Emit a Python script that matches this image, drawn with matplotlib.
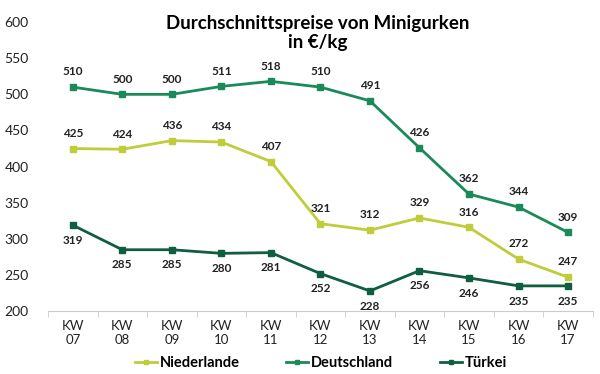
import numpy as np
from matplotlib import pyplot as plt

plt.rcParams['font.family'] = ['Lato', 'DejaVu Sans']

# Data
weeks = ["07", "08", "09", "10", "11", "12", "13", "14", "15", "16", "17"]
niederlande = [425, 424, 436, 434, 407, 321, 312, 329, 316, 272, 247]
deutschland = [510, 500, 500, 511, 518, 510, 491, 426, 362, 344, 309]
tuerkei = [319, 285, 285, 280, 281, 252, 228, 256, 246, 235, 235]

fig = plt.figure(figsize=(6, 3.74), dpi=100)
ax = fig.add_axes([0.08, 0.168, 0.908, 0.773])

x = np.arange(len(weeks))
series = [
    ("Niederlande", niederlande, "#bfcd3a", 1),
    ("Deutschland", deutschland, "#1a8a58", 1),
    ("Türkei", tuerkei, "#0f5e40", -1),
]
for name, vals, col, side in series:
    ax.plot(x, vals, color=col, lw=2, marker="s", ms=4, label=name)
    for xi, v in zip(x, vals):
        ax.annotate(str(v), (xi, v), xytext=(0, 7 * side), textcoords="offset points",
                    ha="center", va="bottom" if side > 0 else "top",
                    fontsize=8.5, fontweight="bold", color="#222222")

ax.set_xlim(-0.5, len(weeks) - 0.5)
ax.set_ylim(200, 600)
ax.set_yticks(range(200, 601, 50))
ax.set_xticks(x)
ax.set_xticklabels(["KW\n" + w for w in weeks], fontsize=9.5, color="#222222", linespacing=1.2)
ax.set_xticks(np.arange(-0.5, len(weeks), 1), minor=True)
ax.tick_params(axis="x", which="major", length=0, pad=6)
ax.tick_params(axis="x", which="minor", length=4, color="#cccccc")
ax.tick_params(axis="y", length=0, labelsize=10, labelcolor="#222222", pad=14)

for s in ["top", "right", "left"]:
    ax.spines[s].set_visible(False)
ax.spines["bottom"].set_color("#cccccc")

fig.text(0.53, 0.96, "Durchschnittspreise von Minigurken\nin €/kg", ha="center", va="top",
         fontsize=13.5, fontweight="bold", linespacing=1.15)

fig.legend(loc="lower center", bbox_to_anchor=(0.535, -0.025), ncol=3, frameon=False,
           prop={"size": 10.5, "weight": "bold"}, handlelength=1.5, handletextpad=0.2,
           columnspacing=3.2, markerscale=0.8)

fig.savefig("out.png", dpi=100)
